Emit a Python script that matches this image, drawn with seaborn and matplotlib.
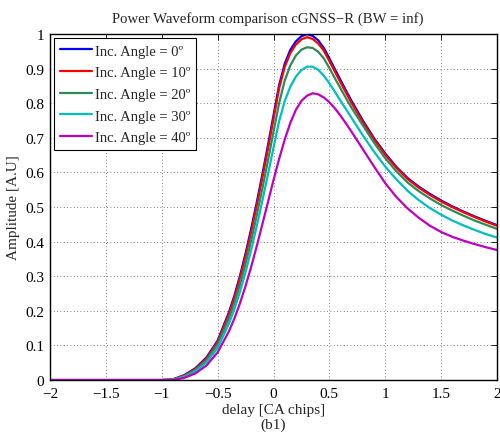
import numpy as np
import pandas as pd
import matplotlib
matplotlib.use("Agg")
import matplotlib.pyplot as plt
import seaborn as sns

delay = [-2.0, -1.0, -0.9, -0.8, -0.7, -0.6, -0.5, -0.4, -0.35, -0.3, -0.25, -0.2, -0.15,
         -0.1, -0.05, 0.0, 0.05, 0.1, 0.15, 0.2, 0.25, 0.3, 0.35, 0.4, 0.45, 0.5, 0.55,
         0.6, 0.65, 0.7, 0.8, 0.9, 1.0, 1.1, 1.2, 1.3, 1.4, 1.5, 1.6, 1.7, 1.8, 1.9, 2.0]

angle_0 = [0.0, 0.0, 0.002, 0.014, 0.034, 0.065, 0.114, 0.195, 0.244, 0.301, 0.366, 0.437, 0.513,
           0.594, 0.678, 0.765, 0.852, 0.914, 0.954, 0.979, 0.994, 1.0, 0.995, 0.982, 0.96, 0.93, 0.898,
           0.867, 0.836, 0.806, 0.75, 0.699, 0.655, 0.616, 0.584, 0.559, 0.538, 0.519, 0.502, 0.487, 0.473, 0.46, 0.448]
angle_10 = [0.0, 0.0, 0.002, 0.013, 0.032, 0.062, 0.11, 0.19, 0.238, 0.294, 0.358, 0.428, 0.504,
            0.584, 0.668, 0.755, 0.843, 0.905, 0.945, 0.97, 0.985, 0.991, 0.986, 0.973, 0.952, 0.922, 0.891,
            0.86, 0.83, 0.8, 0.745, 0.695, 0.651, 0.613, 0.581, 0.556, 0.535, 0.516, 0.5, 0.485, 0.471, 0.458, 0.446]
angle_20 = [0.0, 0.0, 0.001, 0.011, 0.029, 0.057, 0.103, 0.177, 0.222, 0.275, 0.336, 0.403, 0.476,
            0.553, 0.634, 0.718, 0.8, 0.865, 0.909, 0.938, 0.955, 0.962, 0.96, 0.949, 0.93, 0.902, 0.872,
            0.843, 0.814, 0.786, 0.736, 0.686, 0.641, 0.603, 0.571, 0.546, 0.525, 0.506, 0.49, 0.475, 0.461, 0.449, 0.437]
angle_30 = [0.0, 0.0, 0.001, 0.009, 0.025, 0.051, 0.093, 0.162, 0.205, 0.255, 0.312, 0.376, 0.445,
            0.518, 0.594, 0.672, 0.748, 0.806, 0.848, 0.877, 0.896, 0.906, 0.906, 0.897, 0.88, 0.858, 0.833,
            0.807, 0.782, 0.757, 0.707, 0.66, 0.617, 0.58, 0.547, 0.52, 0.497, 0.478, 0.461, 0.447, 0.434, 0.422, 0.412]
angle_40 = [0.0, 0.0, 0.0, 0.006, 0.019, 0.042, 0.08, 0.14, 0.178, 0.222, 0.272, 0.327, 0.387,
            0.45, 0.514, 0.578, 0.639, 0.695, 0.743, 0.781, 0.807, 0.822, 0.829, 0.826, 0.817, 0.803, 0.785,
            0.764, 0.741, 0.717, 0.667, 0.617, 0.569, 0.529, 0.496, 0.469, 0.446, 0.428, 0.414, 0.403, 0.393, 0.384, 0.376]

labels = ["Inc. Angle = 0º", "Inc. Angle = 10º", "Inc. Angle = 20º",
          "Inc. Angle = 30º", "Inc. Angle = 40º"]
series = [angle_0, angle_10, angle_20, angle_30, angle_40]
colors = ["#0000ff", "#ff0000", "#2e8b57", "#00bfbf", "#bf00bf"]

x_ticks = [-2, -1.5, -1, -0.5, 0, 0.5, 1, 1.5, 2]
x_ticklabels = ["\u22122", "\u22121.5", "\u22121", "\u22120.5", "0", "0.5", "1", "1.5", "2"]
y_ticks = [0, 0.1, 0.2, 0.3, 0.4, 0.5, 0.6, 0.7, 0.8, 0.9, 1]
y_ticklabels = ["0", "0.1", "0.2", "0.3", "0.4", "0.5", "0.6", "0.7", "0.8", "0.9", "1"]

df = pd.concat([pd.DataFrame({"delay": delay, "amp": s, "angle": lab})
                for s, lab in zip(series, labels)], ignore_index=True)

sns.set_style("white")
plt.rcParams["font.family"] = ["Liberation Serif", "DejaVu Serif"]

fig = plt.figure(figsize=(5.0, 4.39), dpi=100)
ax = fig.add_axes([0.1, 0.132, 0.894, 0.788])

sns.lineplot(data=df, x="delay", y="amp", hue="angle", hue_order=labels,
             palette=colors, linewidth=1.6, ax=ax, sort=False)

ax.set_xlim(-2, 2)
ax.set_ylim(0, 1)
ax.set_xticks(x_ticks)
ax.set_xticklabels(x_ticklabels, fontsize=11)
ax.set_yticks(y_ticks)
ax.set_yticklabels(y_ticklabels, fontsize=11)
ax.tick_params(direction="in", top=True, right=True, length=4, width=0.6, colors="black")
ax.tick_params(axis="x", pad=5)
ax.tick_params(axis="y", pad=4)
ax.grid(True, linestyle=(0, (1, 3)), color="#555555", linewidth=0.6)
for sp in ax.spines.values():
    sp.set_visible(True)
    sp.set_color("black")
    sp.set_linewidth(1.0)

ax.set_xlabel("delay [CA chips]\n(b1)", fontsize=11, labelpad=2, linespacing=1.2)
ax.set_ylabel("Amplitude [A.U]", fontsize=11, labelpad=4)
ax.set_title("Power Waveform comparison cGNSS\u2212R (BW = inf)", fontsize=10.6, pad=9, x=0.487)

leg = ax.legend(loc="upper left", fontsize=10.5, frameon=True, fancybox=False,
                edgecolor="black", framealpha=1, borderaxespad=0.3,
                handlelength=2.15, handletextpad=0.25, labelspacing=0.58,
                borderpad=0.4, title=None)
leg.get_frame().set_linewidth(0.8)

fig.savefig("out.png", dpi=100)
